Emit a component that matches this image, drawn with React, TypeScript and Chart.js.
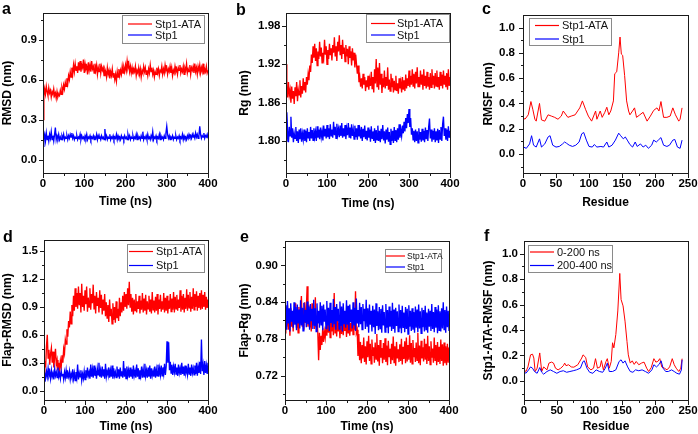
import React, { useEffect, useRef } from 'react';
import { Chart, registerables } from 'chart.js';

Chart.register(...registerables);

// ---------- DATA ----------
const TIME_STEP_NS = 2; // sampling interval of the time series (0..400 ns)

// a: RMSD (nm)
const rmsdAtaNm = [
  0.30, 0.47, 0.53, 0.49, 0.55, 0.51, 0.48, 0.54, 0.50, 0.52, 0.47, 0.51, 0.49, 0.53, 0.48, 0.50, 0.46, 0.51, 0.47, 0.49, 0.48,
  0.52, 0.49, 0.54, 0.51, 0.56, 0.53, 0.58, 0.55, 0.61, 0.57, 0.63, 0.60, 0.66, 0.62, 0.69, 0.64, 0.71, 0.66, 0.72, 0.67,
  0.70, 0.65, 0.73, 0.67, 0.74, 0.66, 0.71, 0.69, 0.75, 0.65, 0.72, 0.68, 0.70, 0.64, 0.73, 0.67, 0.71, 0.66, 0.74, 0.68,
  0.70, 0.65, 0.72, 0.67, 0.71, 0.64, 0.69, 0.66, 0.72, 0.65, 0.70, 0.67, 0.69, 0.63, 0.68,
  0.66, 0.62, 0.69, 0.64, 0.67, 0.61, 0.66, 0.63, 0.68, 0.62, 0.65, 0.60, 0.64, 0.59, 0.66, 0.62, 0.68, 0.63, 0.67, 0.64,
  0.70, 0.65, 0.69, 0.66,
  0.71, 0.67, 0.74, 0.69, 0.72, 0.66, 0.70,
  0.65, 0.69, 0.64, 0.68, 0.66, 0.70, 0.63, 0.67, 0.65, 0.69,
  0.64, 0.68, 0.62, 0.67, 0.65, 0.70, 0.66, 0.69, 0.64, 0.67,
  0.63, 0.68, 0.65, 0.71, 0.66, 0.69, 0.64, 0.67, 0.62, 0.66,
  0.64, 0.69, 0.65, 0.68, 0.63, 0.67, 0.66, 0.70, 0.64, 0.68,
  0.65, 0.71, 0.67, 0.69, 0.64, 0.68, 0.66, 0.70, 0.65, 0.69,
  0.63, 0.67, 0.65, 0.70, 0.66, 0.68, 0.64, 0.69, 0.67, 0.71,
  0.65, 0.68, 0.66, 0.70, 0.64, 0.69, 0.67, 0.72, 0.65, 0.68,
  0.66, 0.71, 0.64, 0.69, 0.67, 0.70, 0.65, 0.72, 0.66, 0.69,
  0.64, 0.70, 0.67, 0.71, 0.65, 0.69, 0.66, 0.72, 0.64, 0.68,
  0.66, 0.70, 0.65, 0.67,
];
const rmsdApoNm = [
  0.10, 0.16, 0.19, 0.14, 0.20, 0.15, 0.18, 0.14, 0.19, 0.16, 0.21, 0.15, 0.18, 0.14, 0.19, 0.24, 0.15, 0.18, 0.16, 0.19, 0.15,
  0.17, 0.15, 0.18, 0.16, 0.19, 0.15, 0.17, 0.16, 0.18, 0.15,
  0.18, 0.16, 0.19, 0.17, 0.20, 0.16, 0.18, 0.15, 0.17, 0.16,
  0.18, 0.15, 0.17, 0.16, 0.19, 0.15, 0.18, 0.16, 0.17, 0.15,
  0.18, 0.16, 0.19, 0.15, 0.17, 0.16, 0.18, 0.15, 0.17, 0.16,
  0.18, 0.15, 0.17, 0.16, 0.19, 0.15, 0.18, 0.16, 0.17, 0.15,
  0.18, 0.16, 0.17, 0.15, 0.23, 0.16, 0.18, 0.15, 0.17, 0.16,
  0.19, 0.15, 0.17, 0.16, 0.18, 0.15, 0.17, 0.16, 0.19, 0.15,
  0.18, 0.16, 0.17, 0.15, 0.18, 0.16, 0.17, 0.15, 0.18, 0.16,
  0.17, 0.15, 0.19, 0.16, 0.18, 0.15, 0.17, 0.16, 0.18, 0.15,
  0.17, 0.16, 0.19, 0.15, 0.18, 0.16, 0.17, 0.15, 0.18, 0.16,
  0.21, 0.15, 0.17, 0.16, 0.18, 0.15, 0.19, 0.16, 0.17, 0.15,
  0.18, 0.16, 0.21, 0.15, 0.17, 0.16, 0.18, 0.15, 0.17, 0.16,
  0.19, 0.15, 0.18, 0.16, 0.17, 0.15, 0.18, 0.16, 0.20, 0.25,
  0.19, 0.16, 0.18, 0.15, 0.17, 0.16, 0.18, 0.15, 0.17, 0.16,
  0.18, 0.15, 0.17, 0.16, 0.18, 0.15, 0.17, 0.16, 0.19, 0.15,
  0.18, 0.16, 0.17, 0.15, 0.18, 0.16, 0.19, 0.17, 0.18, 0.16,
  0.19, 0.17, 0.18, 0.16, 0.20, 0.17, 0.19, 0.16, 0.18, 0.25,
  0.19, 0.16, 0.18, 0.17, 0.20, 0.16, 0.18, 0.17, 0.19, 0.16,
];

// b: Rg (nm)
const rgAtaNm = [
  1.920, 1.885, 1.868, 1.892, 1.872, 1.880, 1.860, 1.885, 1.866, 1.878, 1.858, 1.884, 1.870, 1.892, 1.862, 1.880,
  1.872, 1.895, 1.868, 1.886, 1.874, 1.898, 1.880, 1.892, 1.876, 1.900,
  1.888, 1.905, 1.895, 1.918, 1.908, 1.935, 1.922, 1.948,
  1.930, 1.952, 1.925, 1.945, 1.918, 1.940, 1.928, 1.955, 1.932, 1.946,
  1.922, 1.938, 1.930, 1.958, 1.935, 1.948, 1.920, 1.942, 1.928, 1.952,
  1.934, 1.945, 1.926, 1.950, 1.938, 1.962, 1.932, 1.948, 1.925, 1.955,
  1.940, 1.965, 1.935, 1.950, 1.928, 1.958, 1.936, 1.946, 1.924, 1.950,
  1.932, 1.944, 1.920, 1.948, 1.930, 1.940, 1.918, 1.945, 1.926, 1.938,
  1.915, 1.935, 1.920,
  1.905, 1.918, 1.892, 1.900, 1.885,
  1.898, 1.882, 1.905, 1.888, 1.900, 1.878, 1.895, 1.884, 1.902, 1.880,
  1.896, 1.886, 1.908, 1.882, 1.900, 1.876, 1.912, 1.890, 1.928, 1.885,
  1.915, 1.880, 1.922, 1.888, 1.905, 1.875, 1.898, 1.884, 1.910, 1.882,
  1.900, 1.886, 1.915, 1.880, 1.896, 1.878, 1.905, 1.884, 1.898, 1.876,
  1.894, 1.880, 1.902, 1.878, 1.890, 1.874, 1.898, 1.882, 1.892, 1.876,
  1.900, 1.880, 1.895, 1.878, 1.904, 1.882, 1.898, 1.886, 1.910, 1.884,
  1.902, 1.888, 1.912, 1.886, 1.905, 1.882, 1.908, 1.890, 1.915, 1.885,
  1.900, 1.884, 1.910, 1.888, 1.904, 1.880, 1.912, 1.886, 1.902, 1.882,
  1.908, 1.885, 1.900, 1.880, 1.906, 1.884, 1.912, 1.888, 1.902, 1.882,
  1.906, 1.886, 1.910, 1.884, 1.900, 1.880, 1.908, 1.886, 1.904, 1.882,
  1.910, 1.888, 1.902, 1.884, 1.906, 1.880, 1.912, 1.886, 1.900,
];
const rgApoNm = [
  1.800, 1.845, 1.815, 1.798, 1.822, 1.808, 1.838, 1.805, 1.820, 1.798, 1.812,
  1.804, 1.822, 1.800, 1.815, 1.797, 1.818, 1.803, 1.820, 1.799, 1.812,
  1.802, 1.818, 1.800, 1.816, 1.798, 1.820, 1.805, 1.814, 1.800, 1.822,
  1.804, 1.817, 1.801, 1.820, 1.806, 1.815, 1.800, 1.823, 1.805, 1.818,
  1.803, 1.821, 1.806, 1.816, 1.801, 1.824, 1.807, 1.819, 1.804, 1.825,
  1.806, 1.820, 1.803, 1.826, 1.808, 1.818, 1.805, 1.830, 1.809, 1.822,
  1.804, 1.827, 1.810, 1.819, 1.806, 1.824, 1.808, 1.828, 1.805, 1.820,
  1.807, 1.825, 1.803, 1.819, 1.809, 1.828, 1.806, 1.821, 1.804, 1.826,
  1.808, 1.818, 1.803, 1.824, 1.806, 1.820, 1.802, 1.825, 1.807, 1.817,
  1.804, 1.822, 1.800, 1.819, 1.806, 1.824, 1.803, 1.816, 1.801, 1.821,
  1.805, 1.818, 1.799, 1.823, 1.804, 1.815, 1.800, 1.820, 1.797, 1.817,
  1.802, 1.824, 1.800, 1.816, 1.798, 1.819, 1.803, 1.825, 1.801, 1.815,
  1.796, 1.818, 1.802, 1.821, 1.799, 1.814, 1.795, 1.819, 1.800, 1.816,
  1.797, 1.822, 1.801, 1.817, 1.798, 1.820, 1.802, 1.826, 1.805, 1.818,
  1.808, 1.824, 1.812, 1.830, 1.815, 1.836, 1.820, 1.842, 1.828, 1.850,
  1.822, 1.836, 1.810, 1.820, 1.802,
  1.816, 1.798, 1.818, 1.800, 1.815, 1.797, 1.820, 1.802, 1.814, 1.799,
  1.819, 1.801, 1.816, 1.798, 1.821, 1.803, 1.817, 1.800, 1.822, 1.835,
  1.804, 1.818, 1.799, 1.816, 1.802, 1.820, 1.798, 1.815, 1.801, 1.819,
  1.797, 1.817, 1.803, 1.822, 1.800, 1.826, 1.838, 1.808, 1.820, 1.802,
  1.818, 1.800, 1.823, 1.805, 1.816,
];

// c: RMSF per residue (nm)
const rmsfAtaResidue = [
  0, 3, 8, 12, 15, 18, 20, 25, 28, 33, 38, 43, 48, 53, 58, 61, 68, 73, 79, 86,
  90, 95, 99, 104, 110, 112, 117, 120, 124, 127, 130, 133, 137, 139, 142, 145, 147, 149, 151, 154,
  157, 160, 162, 166, 169, 172, 177, 182, 188, 193, 198, 203, 206, 209, 213, 218, 223, 227, 231, 236,
  238, 241,
];
const rmsfAtaNm = [
  0.29, 0.275, 0.31, 0.415, 0.35, 0.275, 0.26, 0.40, 0.27, 0.26, 0.31, 0.30, 0.29, 0.275, 0.30, 0.34, 0.29, 0.30, 0.31, 0.365,
  0.42, 0.35, 0.30, 0.26, 0.34, 0.275, 0.34, 0.29, 0.33, 0.37, 0.31, 0.34, 0.42, 0.635, 0.65, 0.80, 0.925, 0.79, 0.78, 0.62,
  0.42, 0.34, 0.31, 0.34, 0.365, 0.29, 0.31, 0.33, 0.26, 0.30, 0.345, 0.365, 0.34, 0.415, 0.29, 0.29, 0.30, 0.365, 0.31, 0.26,
  0.275, 0.365,
];
const rmsfApoResidue = [
  0, 5, 10, 13, 16, 20, 25, 28, 33, 38, 41, 45, 50, 55, 60, 63, 66, 70, 75, 80,
  85, 89, 92, 96, 100, 105, 108, 112, 118, 122, 127, 130, 135, 140, 145, 148, 152, 155, 158, 162,
  166, 170, 173, 178, 182, 186, 190, 195, 198, 202, 205, 209, 213, 218, 222, 227, 230, 234, 238, 241,
];
const rmsfApoNm = [
  0.057, 0.045, 0.08, 0.145, 0.07, 0.055, 0.12, 0.055, 0.08, 0.135, 0.145, 0.07, 0.055, 0.06, 0.08, 0.095, 0.085, 0.07, 0.06, 0.07,
  0.095, 0.16, 0.17, 0.11, 0.06, 0.055, 0.075, 0.055, 0.06, 0.055, 0.095, 0.055, 0.07, 0.11, 0.165, 0.145, 0.12, 0.135, 0.11, 0.075,
  0.055, 0.095, 0.06, 0.08, 0.055, 0.07, 0.045, 0.07, 0.11, 0.095, 0.11, 0.13, 0.07, 0.06, 0.07, 0.11, 0.115, 0.055, 0.045, 0.11,
];

// d: Flap-RMSD (nm)
const flapRmsdAtaNm = [
  0.15, 0.32, 0.25, 0.48, 0.60, 0.35, 0.44, 0.28, 0.40, 0.46, 0.30, 0.42, 0.25, 0.36, 0.45, 0.28, 0.33, 0.22, 0.30, 0.20, 0.32,
  0.26, 0.38, 0.30, 0.45, 0.40, 0.55, 0.50, 0.66, 0.58, 0.75, 0.68, 0.85, 0.72, 0.92, 0.80, 1.02, 0.86, 1.10, 0.90, 1.05,
  0.88, 1.12, 0.92, 1.05, 0.84, 1.15, 0.90, 1.02, 0.86, 1.08,
  0.93, 1.12, 0.85, 1.00, 0.90, 1.10, 0.87, 1.04, 0.94, 1.14,
  0.88, 1.02, 0.83, 1.06, 0.91, 1.00, 0.84, 1.08, 0.89, 1.03,
  0.82, 0.98, 0.86, 1.04, 0.80,
  0.95, 0.78, 0.92, 0.74, 0.98, 0.80, 0.88, 0.72, 0.94, 0.76,
  0.90, 0.73, 0.96, 0.78, 0.88, 0.75, 1.00, 0.80, 0.95, 0.84,
  1.02, 0.86, 1.06, 0.90, 1.04, 0.88, 1.10, 0.92, 1.17, 0.90, 1.04,
  0.85, 1.00, 0.82, 0.98, 0.86, 1.04, 0.84, 0.96, 0.88, 1.02,
  0.83, 0.97, 0.87, 1.05, 0.84, 0.99, 0.86, 1.03, 0.82, 0.96,
  0.88, 1.02, 0.85, 0.98, 0.83, 1.06, 0.87, 0.97, 0.84, 1.01,
  0.86, 1.04, 0.82, 0.98, 0.88, 1.03, 0.85, 0.96, 0.87, 1.05,
  0.84, 1.00, 0.86, 1.02, 0.83, 0.97, 0.88, 1.04, 0.85, 0.99,
  0.87, 1.06, 0.84, 1.01, 0.88, 1.03, 0.86, 0.98, 0.89, 1.08,
  0.85, 1.02, 0.87, 1.04, 0.84, 1.00, 0.88, 1.09, 0.86, 1.03,
  0.89, 1.06, 0.85, 1.01, 0.88, 1.10, 0.87, 1.04, 0.90, 1.07,
  0.86, 1.02, 0.89, 1.05, 0.87, 1.08, 0.88, 1.03, 0.90, 1.06,
  0.87, 1.01, 0.89, 0.98,
];
const flapRmsdApoNm = [
  0.10, 0.18, 0.14, 0.21, 0.15, 0.24, 0.16, 0.20, 0.13, 0.22,
  0.15, 0.19, 0.12, 0.23, 0.16, 0.20, 0.14, 0.25, 0.15, 0.19,
  0.13, 0.21, 0.16, 0.18, 0.12, 0.20, 0.14, 0.22, 0.13, 0.19,
  0.15, 0.21, 0.12, 0.18, 0.14, 0.23, 0.13, 0.19, 0.11, 0.20,
  0.14, 0.28, 0.12, 0.19, 0.15, 0.22, 0.11, 0.18, 0.13, 0.21, 0.12,
  0.22, 0.14, 0.25, 0.16, 0.20, 0.13, 0.28, 0.15, 0.23, 0.14,
  0.27, 0.16, 0.21, 0.13, 0.24, 0.17, 0.30, 0.15, 0.22, 0.14,
  0.26, 0.16, 0.23, 0.13, 0.29, 0.15, 0.21, 0.17, 0.25, 0.14,
  0.22, 0.15, 0.27, 0.13, 0.24, 0.16, 0.20, 0.14, 0.26, 0.15,
  0.23, 0.13, 0.25, 0.16, 0.21, 0.14, 0.32, 0.15, 0.24, 0.13,
  0.26, 0.16, 0.22, 0.14, 0.25, 0.15, 0.23, 0.13, 0.27, 0.16,
  0.21, 0.14, 0.28, 0.15, 0.24, 0.13, 0.22, 0.16, 0.26, 0.14,
  0.23, 0.15, 0.29, 0.16, 0.22, 0.14, 0.25, 0.15, 0.27, 0.13,
  0.24, 0.16, 0.21, 0.15, 0.26, 0.14, 0.23, 0.16, 0.28, 0.15,
  0.24, 0.17, 0.27, 0.16, 0.25, 0.18, 0.29, 0.17, 0.26,
  0.53, 0.30, 0.52, 0.22, 0.31, 0.19, 0.28, 0.17, 0.26, 0.20,
  0.29, 0.18, 0.25, 0.16, 0.28, 0.19, 0.24, 0.17, 0.30, 0.18,
  0.26, 0.16, 0.27, 0.19, 0.23, 0.17, 0.29, 0.18, 0.25, 0.16,
  0.28, 0.19, 0.24, 0.17, 0.27, 0.18, 0.30, 0.16, 0.26, 0.19,
  0.31, 0.18, 0.55, 0.21, 0.28, 0.17, 0.32, 0.19, 0.27, 0.18, 0.30,
];

// e: Flap-Rg (nm)
const flapRgAtaNm = [
  0.790, 0.825, 0.800, 0.835, 0.795, 0.820, 0.785, 0.830, 0.800, 0.815,
  0.792, 0.828, 0.805, 0.838, 0.798, 0.822, 0.790, 0.832, 0.803, 0.826,
  0.850, 0.800, 0.830, 0.795, 0.840, 0.806, 0.828, 0.866, 0.800, 0.835,
  0.798, 0.825, 0.792, 0.838, 0.803, 0.820, 0.796, 0.848, 0.800, 0.818, 0.790,
  0.745, 0.790, 0.762, 0.785, 0.770, 0.798, 0.775, 0.792, 0.782, 0.800,
  0.785, 0.812, 0.790, 0.818, 0.782, 0.808, 0.792, 0.815, 0.786, 0.855,
  0.790, 0.810, 0.784, 0.816, 0.792, 0.806, 0.781, 0.814, 0.788, 0.820,
  0.786, 0.808, 0.793, 0.817, 0.783, 0.811, 0.790, 0.815, 0.785, 0.806,
  0.792, 0.818, 0.787, 0.812, 0.795, 0.858, 0.790,
  0.795, 0.752, 0.788, 0.745, 0.775, 0.740, 0.770, 0.748, 0.782, 0.742,
  0.768, 0.738, 0.776, 0.750, 0.785, 0.744, 0.772, 0.739, 0.779, 0.752,
  0.766, 0.741, 0.774, 0.747, 0.788, 0.743, 0.770, 0.736, 0.778, 0.749,
  0.765, 0.740, 0.773, 0.746, 0.781, 0.742, 0.769, 0.737, 0.777, 0.751,
  0.764, 0.739, 0.772, 0.745, 0.784, 0.741, 0.768, 0.736, 0.775, 0.748,
  0.763, 0.742, 0.771, 0.744, 0.780, 0.738, 0.767, 0.747, 0.776, 0.740,
  0.782, 0.743, 0.770, 0.746, 0.786, 0.741, 0.773, 0.739, 0.778, 0.750,
  0.765, 0.742, 0.774, 0.745, 0.790, 0.740, 0.769, 0.737, 0.777, 0.748,
  0.766, 0.743, 0.780, 0.746, 0.772, 0.739, 0.785, 0.744, 0.768, 0.738,
  0.776, 0.749, 0.764, 0.741, 0.782, 0.745, 0.770, 0.737, 0.775, 0.742,
  0.767, 0.739, 0.779, 0.744, 0.771, 0.736, 0.774, 0.740, 0.768, 0.737,
  0.772, 0.741, 0.766,
];
const flapRgApoNm = [
  0.800, 0.835, 0.795, 0.842, 0.805, 0.830, 0.792, 0.838, 0.808, 0.826,
  0.798, 0.840, 0.803, 0.832, 0.794, 0.836, 0.806, 0.828, 0.797, 0.843,
  0.802, 0.831, 0.793, 0.839, 0.807, 0.827, 0.799, 0.841, 0.804, 0.833,
  0.795, 0.837, 0.809, 0.829, 0.796, 0.844, 0.801, 0.830, 0.792, 0.838,
  0.805, 0.826, 0.798, 0.840, 0.803, 0.834, 0.794, 0.836, 0.808, 0.828,
  0.797, 0.842, 0.802, 0.831, 0.793, 0.839, 0.806, 0.827, 0.799, 0.845,
  0.804, 0.832, 0.795, 0.837, 0.809, 0.829, 0.796, 0.841, 0.801, 0.833,
  0.792, 0.838, 0.805, 0.826, 0.798, 0.843, 0.803, 0.834, 0.794, 0.836,
  0.807, 0.828, 0.797, 0.840, 0.802, 0.831, 0.793, 0.846, 0.806, 0.827,
  0.799, 0.839, 0.804, 0.832, 0.795, 0.837, 0.809, 0.829, 0.796, 0.844, 0.801,
  0.830, 0.790, 0.836, 0.803, 0.826, 0.792, 0.834, 0.799, 0.828, 0.788,
  0.838, 0.801, 0.825, 0.794, 0.832, 0.797, 0.829, 0.790, 0.835, 0.802,
  0.824, 0.791, 0.837, 0.798, 0.827, 0.789, 0.833, 0.800, 0.826, 0.793,
  0.839, 0.796, 0.828, 0.790, 0.831, 0.801, 0.825, 0.792, 0.836, 0.797,
  0.827, 0.789, 0.834, 0.799, 0.823, 0.791, 0.832, 0.796, 0.829, 0.788,
  0.835, 0.800, 0.826, 0.793, 0.830, 0.795, 0.824, 0.790, 0.833, 0.798,
  0.828, 0.791, 0.836, 0.797, 0.825, 0.789, 0.831, 0.799, 0.827, 0.792,
  0.834, 0.795, 0.823, 0.790, 0.829, 0.800, 0.826, 0.793, 0.837, 0.796,
  0.824, 0.791, 0.832, 0.798, 0.828, 0.789, 0.835, 0.794, 0.825, 0.792,
  0.830, 0.797, 0.840, 0.795, 0.827, 0.790, 0.833, 0.799, 0.826, 0.793,
];

// f: Stp1-ATA RMSF, two time windows (nm)
const rmsfEarlyResidue = [
  0, 3, 6, 10, 13, 15, 17, 20, 24, 27, 30, 35, 38, 42, 45, 48, 52, 56, 60, 62,
  64, 68, 72, 76, 82, 88, 90, 94, 97, 102, 106, 109, 112, 116, 118, 121, 125, 127, 130, 133,
  135, 137, 140, 143, 146, 148, 151, 154, 157, 159, 162, 165, 168, 171, 175, 179, 183, 187, 190, 194,
  198, 201, 204, 207, 210, 214, 218, 222, 226, 229, 232, 236, 239, 241,
];
const rmsfEarlyNm = [
  0.087, 0.074, 0.11, 0.205, 0.21, 0.18, 0.074, 0.10, 0.22, 0.074, 0.11, 0.087, 0.14, 0.148, 0.14, 0.10, 0.087, 0.10, 0.12, 0.14,
  0.12, 0.127, 0.11, 0.108, 0.127, 0.18, 0.205, 0.185, 0.11, 0.087, 0.10, 0.175, 0.10, 0.11, 0.16, 0.087, 0.153, 0.175, 0.10, 0.153,
  0.30, 0.26, 0.365, 0.55, 0.845, 0.64, 0.59, 0.47, 0.31, 0.205, 0.14, 0.158, 0.13, 0.153, 0.127, 0.14, 0.148, 0.10, 0.074, 0.105,
  0.175, 0.148, 0.153, 0.175, 0.11, 0.10, 0.087, 0.11, 0.175, 0.127, 0.10, 0.074, 0.10, 0.175,
];
const rmsfLateResidue = [
  0, 3, 7, 10, 13, 16, 20, 24, 27, 30, 35, 40, 45, 50, 55, 60, 65, 70, 75, 80,
  86, 90, 92, 96, 100, 105, 110, 115, 120, 124, 127, 130, 135, 140, 145, 148, 151, 154, 158, 162,
  166, 170, 175, 180, 185, 190, 195, 198, 202, 206, 209, 212, 216, 220, 225, 229, 233, 237, 240, 241,
];
const rmsfLateNm = [
  0.074, 0.06, 0.087, 0.11, 0.10, 0.074, 0.06, 0.105, 0.068, 0.053, 0.074, 0.087, 0.074, 0.06, 0.074, 0.08, 0.068, 0.074, 0.08, 0.087,
  0.10, 0.153, 0.158, 0.10, 0.068, 0.06, 0.087, 0.074, 0.068, 0.10, 0.14, 0.074, 0.074, 0.087, 0.153, 0.166, 0.14, 0.158, 0.11, 0.074,
  0.068, 0.087, 0.08, 0.087, 0.074, 0.06, 0.087, 0.127, 0.11, 0.13, 0.158, 0.10, 0.074, 0.074, 0.087, 0.074, 0.06, 0.053, 0.087, 0.166,
];

// Tick labels
const timeMajorTicks = [0, 100, 200, 300, 400];
const timeMinorTicks = [50, 150, 250, 350];
const residueMajorTicks = [0, 50, 100, 150, 200, 250];
const residueMinorTicks = [25, 75, 125, 175, 225];
const rmsdMajorTicks = [0, 0.3, 0.6, 0.9];
const rmsdMinorTicks = [0.15, 0.45, 0.75, 1.05];
const rgMajorTicks = [1.8, 1.86, 1.92, 1.98];
const rgMinorTicks = [1.77, 1.83, 1.89, 1.95];
const rmsfMajorTicks = [0, 0.2, 0.4, 0.6, 0.8, 1.0];
const rmsfMinorTicks = [-0.1, 0.1, 0.3, 0.5, 0.7, 0.9];
const flapRmsdMajorTicks = [0, 0.3, 0.6, 0.9, 1.2, 1.5];
const flapRmsdMinorTicks = [0.15, 0.45, 0.75, 1.05, 1.35];
const flapRgMajorTicks = [0.72, 0.78, 0.84, 0.9];
const flapRgMinorTicks = [0.69, 0.75, 0.81, 0.87, 0.93];

// ---------- STYLE / LAYOUT ----------
const FONT = "'Liberation Sans', Arial, Helvetica, sans-serif";
const RED = '#ff0000';
const BLUE = '#0000ff';
const EXTRA_W = 20;
const NOISY_LINE_W = 1.35;
const SMOOTH_LINE_W = 1;

const timeAxis = (n: number) => Array.from({ length: n }, (_, i) => i * TIME_STEP_NS);

type SeriesSpec = { label: string; xs: number[]; ys: number[]; color: string; order: number };
type PanelSpec = {
  letter: string;
  letterPos: [number, number];
  cell: [number, number, number, number];
  plot: [number, number, number, number];
  lineWidth: number;
  xMin: number; xMax: number; xMajor: number[]; xMinor: number[]; xTitle: string; xTitlePad: number; xLabelPad: number;
  yMin: number; yMax: number; yMajor: number[]; yMinor: number[]; yDec: number; yTitle: string; yTitlePad: number; yLabelPad: number;
  series: SeriesSpec[];
  legend: { box: [number, number, number, number]; line: [number, number]; textX: number; rows: number[]; size: number };
};

const isIn = (arr: number[], v: number) => arr.some((m) => Math.abs(m - v) < 1e-9);

const PANELS: PanelSpec[] = [
  {
    letter: 'a', letterPos: [2, 14], cell: [0, 0, 233, 217], plot: [43, 13, 208, 173], lineWidth: NOISY_LINE_W,
    xMin: 0, xMax: 400, xMajor: timeMajorTicks, xMinor: timeMinorTicks, xTitle: 'Time (ns)', xTitlePad: 7.8, xLabelPad: 4,
    yMin: -0.1, yMax: 1.1, yMajor: rmsdMajorTicks, yMinor: rmsdMinorTicks, yDec: 1, yTitle: 'RMSD (nm)', yTitlePad: 0.5, yLabelPad: 6,
    series: [
      { label: 'Stp1-ATA', xs: timeAxis(rmsdAtaNm.length), ys: rmsdAtaNm, color: RED, order: 1 },
      { label: 'Stp1', xs: timeAxis(rmsdApoNm.length), ys: rmsdApoNm, color: BLUE, order: 0 },
    ],
    legend: { box: [122, 15, 204, 43], line: [128, 152], textX: 155, rows: [24, 35], size: 11 },
  },
  {
    letter: 'b', letterPos: [236, 15], cell: [233, 0, 232, 217], plot: [286, 13, 450, 173], lineWidth: NOISY_LINE_W,
    xMin: 0, xMax: 400, xMajor: timeMajorTicks, xMinor: timeMinorTicks, xTitle: 'Time (ns)', xTitlePad: 6.5, xLabelPad: 4,
    yMin: 1.75, yMax: 2.0, yMajor: rgMajorTicks, yMinor: rgMinorTicks, yDec: 2, yTitle: 'Rg (nm)', yTitlePad: 4.5, yLabelPad: 5.5,
    series: [
      { label: 'Stp1-ATA', xs: timeAxis(rgAtaNm.length), ys: rgAtaNm, color: RED, order: 1 },
      { label: 'Stp1', xs: timeAxis(rgApoNm.length), ys: rgApoNm, color: BLUE, order: 0 },
    ],
    legend: { box: [366, 14, 449, 42], line: [371, 395], textX: 397, rows: [23.5, 35], size: 11 },
  },
  {
    letter: 'c', letterPos: [482, 14], cell: [465, 0, 233, 217], plot: [523, 12, 688, 173], lineWidth: SMOOTH_LINE_W,
    xMin: 0, xMax: 250, xMajor: residueMajorTicks, xMinor: residueMinorTicks, xTitle: 'Residue', xTitlePad: 7.1, xLabelPad: 4,
    yMin: -0.15, yMax: 1.1, yMajor: rmsfMajorTicks, yMinor: rmsfMinorTicks, yDec: 1, yTitle: 'RMSF (nm)', yTitlePad: 16, yLabelPad: 8,
    series: [
      { label: 'Stp1-ATA', xs: rmsfAtaResidue, ys: rmsfAtaNm, color: RED, order: 1 },
      { label: 'Stp1', xs: rmsfApoResidue, ys: rmsfApoNm, color: BLUE, order: 0 },
    ],
    legend: { box: [529, 18, 611, 45], line: [535, 559], textX: 562, rows: [25.5, 39], size: 11 },
  },
  {
    letter: 'd', letterPos: [3, 242], cell: [0, 217, 233, 217], plot: [44, 240, 208, 400], lineWidth: NOISY_LINE_W,
    xMin: 0, xMax: 400, xMajor: timeMajorTicks, xMinor: timeMinorTicks, xTitle: 'Time (ns)', xTitlePad: 0, xLabelPad: 4,
    yMin: -0.1, yMax: 1.62, yMajor: flapRmsdMajorTicks, yMinor: flapRmsdMinorTicks, yDec: 1, yTitle: 'Flap-RMSD (nm)', yTitlePad: 0.5, yLabelPad: 6,
    series: [
      { label: 'Stp1-ATA', xs: timeAxis(flapRmsdAtaNm.length), ys: flapRmsdAtaNm, color: RED, order: 1 },
      { label: 'Stp1', xs: timeAxis(flapRmsdApoNm.length), ys: flapRmsdApoNm, color: BLUE, order: 0 },
    ],
    legend: { box: [127, 244, 204, 272], line: [129, 153], textX: 156, rows: [251.5, 265.5], size: 11 },
  },
  {
    letter: 'e', letterPos: [240, 242], cell: [233, 217, 232, 217], plot: [285, 241, 449, 400], lineWidth: NOISY_LINE_W,
    xMin: 0, xMax: 400, xMajor: timeMajorTicks, xMinor: timeMinorTicks, xTitle: 'Time (ns)', xTitlePad: 0, xLabelPad: 4,
    yMin: 0.68, yMax: 0.94, yMajor: flapRgMajorTicks, yMinor: flapRgMinorTicks, yDec: 2, yTitle: 'Flap-Rg (nm)', yTitlePad: 4, yLabelPad: 7,
    series: [
      { label: 'Stp1-ATA', xs: timeAxis(flapRgAtaNm.length), ys: flapRgAtaNm, color: RED, order: 1 },
      { label: 'Stp1', xs: timeAxis(flapRgApoNm.length), ys: flapRgApoNm, color: BLUE, order: 0 },
    ],
    legend: { box: [385, 249, 441, 272], line: [386, 405], textX: 407, rows: [256, 267], size: 8.5 },
  },
  {
    letter: 'f', letterPos: [484, 241], cell: [465, 217, 233, 217], plot: [524, 241, 688, 400], lineWidth: SMOOTH_LINE_W,
    xMin: 0, xMax: 250, xMajor: residueMajorTicks, xMinor: residueMinorTicks, xTitle: 'Residue', xTitlePad: 0, xLabelPad: 4,
    yMin: -0.15, yMax: 1.1, yMajor: rmsfMajorTicks, yMinor: rmsfMinorTicks, yDec: 1, yTitle: 'Stp1-ATA-RMSF (nm)', yTitlePad: 16, yLabelPad: 6,
    series: [
      { label: '0-200 ns', xs: rmsfEarlyResidue, ys: rmsfEarlyNm, color: RED, order: 1 },
      { label: '200-400 ns', xs: rmsfLateResidue, ys: rmsfLateNm, color: BLUE, order: 0 },
    ],
    legend: { box: [528, 245, 612, 272], line: [530, 554], textX: 557, rows: [252, 265.5], size: 11 },
  },
];

function makeConfig(p: PanelSpec): any {
  const [cx, cy, cw, ch] = p.cell;
  const [pl, pt, pr, pb] = p.plot;
  const canvasW = cw + EXTRA_W;
  const xTicks = [...p.xMajor, ...p.xMinor].sort((a, b) => a - b);
  const yTicks = [...p.yMajor, ...p.yMinor].sort((a, b) => a - b);
  const tickFont = { family: FONT, size: 11.5, weight: 'bold' as const };
  const titleFont = { family: FONT, size: 12, weight: 'bold' as const };

  const decor = {
    id: 'decor',
    afterDraw(chart: any) {
      const ctx = chart.ctx as CanvasRenderingContext2D;
      const { left, top, right, bottom } = chart.chartArea;
      const xs = chart.scales.x;
      const ys = chart.scales.y;
      ctx.save();
      // frame
      ctx.strokeStyle = '#1a1a1a';
      ctx.lineWidth = 1;
      ctx.strokeRect(Math.round(left) + 0.5, Math.round(top) + 0.5, Math.round(right - left), Math.round(bottom - top));
      // ticks
      ctx.beginPath();
      for (const t of xs.ticks) {
        const px = Math.round(xs.getPixelForValue(t.value)) + 0.5;
        const len = isIn(p.xMajor, t.value) ? 4 : 2;
        ctx.moveTo(px, Math.round(bottom) + 1);
        ctx.lineTo(px, Math.round(bottom) + 1 + len);
      }
      for (const t of ys.ticks) {
        const py = Math.round(ys.getPixelForValue(t.value)) + 0.5;
        const len = isIn(p.yMajor, t.value) ? 4 : 2;
        ctx.moveTo(Math.round(left), py);
        ctx.lineTo(Math.round(left) - len, py);
      }
      ctx.stroke();
      // legend
      const L = p.legend;
      const bx = L.box[0] - cx, by = L.box[1] - cy, bw = L.box[2] - L.box[0], bh = L.box[3] - L.box[1];
      ctx.fillStyle = '#ffffff';
      ctx.fillRect(bx, by, bw, bh);
      ctx.strokeStyle = '#8a8a8a';
      ctx.strokeRect(bx + 0.5, by + 0.5, bw, bh);
      ctx.font = `${L.size}px ${FONT}`;
      ctx.textBaseline = 'middle';
      ctx.textAlign = 'left';
      p.series.forEach((s, i) => {
        const ry = L.rows[i] - cy;
        ctx.strokeStyle = s.color;
        ctx.lineWidth = 1.2;
        ctx.beginPath();
        ctx.moveTo(L.line[0] - cx, ry);
        ctx.lineTo(L.line[1] - cx, ry);
        ctx.stroke();
        ctx.fillStyle = '#111';
        ctx.fillText(s.label, L.textX - cx, ry + 0.5);
      });
      // panel letter
      ctx.font = `bold 16px ${FONT}`;
      ctx.textBaseline = 'alphabetic';
      ctx.fillStyle = '#000';
      ctx.fillText(p.letter, p.letterPos[0] - cx, p.letterPos[1] - cy);
      ctx.restore();
    },
  };

  return {
    type: 'line',
    data: {
      datasets: p.series.map((s) => ({
        label: s.label,
        data: s.xs.map((x, i) => ({ x, y: s.ys[i] })),
        borderColor: s.color,
        backgroundColor: s.color,
        borderWidth: p.lineWidth,
        pointRadius: 0,
        tension: 0,
        fill: false,
        order: s.order,
      })),
    },
    options: {
      responsive: false,
      maintainAspectRatio: false,
      devicePixelRatio: 1,
      animation: false,
      events: [],
      layout: {
        padding: { left: 0, bottom: 0, top: pt - cy, right: cx + canvasW - pr },
      },
      plugins: { legend: { display: false }, tooltip: { enabled: false } },
      scales: {
        x: {
          type: 'linear',
          position: 'bottom',
          min: p.xMin,
          max: p.xMax,
          grid: { display: false, drawTicks: false },
          border: { display: false },
          afterBuildTicks: (s: any) => { s.ticks = xTicks.map((v) => ({ value: v })); },
          afterFit: (s: any) => { s.height = cy + ch - pb; },
          ticks: {
            autoSkip: false,
            maxRotation: 0,
            minRotation: 0,
            padding: p.xLabelPad,
            color: '#000',
            font: tickFont,
            callback: (v: number) => (isIn(p.xMajor, v) ? String(v) : ''),
          },
          title: { display: true, text: p.xTitle, color: '#000', font: titleFont, padding: { top: 0, bottom: p.xTitlePad } },
        },
        y: {
          type: 'linear',
          position: 'left',
          min: p.yMin,
          max: p.yMax,
          grid: { display: false, drawTicks: false },
          border: { display: false },
          afterBuildTicks: (s: any) => { s.ticks = yTicks.map((v) => ({ value: v })); },
          afterFit: (s: any) => { s.width = pl - cx; },
          ticks: {
            autoSkip: false,
            padding: p.yLabelPad,
            color: '#000',
            font: tickFont,
            callback: (v: number) => (isIn(p.yMajor, v) ? v.toFixed(p.yDec) : ''),
          },
          title: { display: true, text: p.yTitle, color: '#000', font: titleFont, padding: { top: p.yTitlePad, bottom: 0 } },
        },
      },
    },
    plugins: [decor],
  };
}

function Panel({ spec }: { spec: PanelSpec }) {
  const ref = useRef<HTMLCanvasElement>(null);
  useEffect(() => {
    if (!ref.current) return;
    const chart = new Chart(ref.current, makeConfig(spec));
    return () => chart.destroy();
  }, [spec]);
  const [cx, cy, cw, ch] = spec.cell;
  return (
    <canvas
      ref={ref}
      width={cw + EXTRA_W}
      height={ch}
      style={{ position: 'absolute', left: cx, top: cy, width: cw + EXTRA_W, height: ch }}
    />
  );
}

export default function App() {
  return (
    <div
      style={{
        position: 'absolute',
        left: 0,
        top: 0,
        width: 698,
        height: 434,
        overflow: 'hidden',
        background: '#ffffff',
      }}
    >
      {PANELS.map((p) => (
        <Panel key={p.letter} spec={p} />
      ))}
    </div>
  );
}
